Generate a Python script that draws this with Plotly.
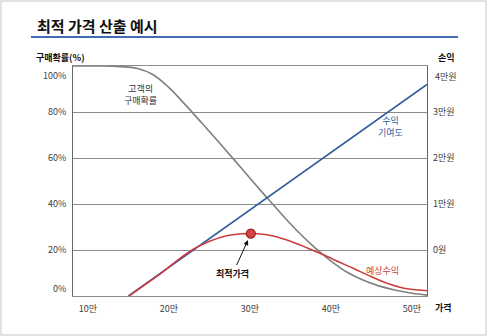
import plotly.graph_objects as go

# ---- data (prices in 만원) ----
price_ticks = [10, 20, 30, 40, 50]
price_tick_labels = ["10만", "20만", "30만", "40만", "50만"]

prob_ticks = [20, 40, 60, 80]
prob_tick_labels = ["20%", "40%", "60%", "80%"]

profit_ticks = [0, 1, 2, 3]
profit_tick_labels = ["0원", "1만원", "2만원", "3만원"]

# customer purchase probability (%)
price_prob = [8.15, 10, 12, 14, 16, 18, 20, 22, 24, 26, 28, 30, 32, 34, 36, 38, 40, 42, 44, 46, 48, 50, 51.85]
prob = [100, 100, 100, 99.7, 99.0, 96.3, 90.6, 83.2, 75.4, 67.5, 59.4, 51.2, 43.1, 35.2, 27.7, 21.0, 15.2, 10.3, 6.8, 4.3, 2.5, 1.2, 0.4]

# profit contribution (만원)
price_contrib = [15.0, 51.85]
contrib = [-1.0, 3.6]

# expected profit (만원)
price_rev = [15.06, 17, 19, 21, 23, 25, 27, 29, 30.1, 31, 33, 35, 37, 39, 41, 43, 45, 47, 49, 51.85]
rev = [-1.0, -0.76, -0.51, -0.23, 0.015, 0.19, 0.305, 0.352, 0.357, 0.352, 0.30, 0.19, 0.05, -0.1, -0.26, -0.42, -0.58, -0.73, -0.83, -0.885]

optimal_price = [30.1]
optimal_value = [0.357]

FONT = "Noto Sans CJK KR"
GRAY = "#7f7f7f"
BLUE = "#2f5d9e"
RED = "#cc3d3d"
TICK = "#404040"

fig = go.Figure()

fig.add_trace(go.Scatter(x=price_prob, y=prob, mode="lines", line=dict(color=GRAY, width=1.6, shape="spline", smoothing=1.0), hoverinfo="skip", cliponaxis=False))
fig.add_trace(go.Scatter(x=price_contrib, y=contrib, yaxis="y2", mode="lines", line=dict(color=BLUE, width=1.6), hoverinfo="skip"))
fig.add_trace(go.Scatter(x=price_rev, y=rev, yaxis="y2", mode="lines", line=dict(color=RED, width=1.6, shape="spline", smoothing=0.8), hoverinfo="skip"))
fig.add_trace(go.Scatter(x=optimal_price, y=optimal_value, yaxis="y2", mode="markers",
                         marker=dict(size=9, color="#d24545", line=dict(color="#a01e1e", width=1.3)), hoverinfo="skip"))

W, H = 487, 336
L, R, T, B = 73, 60, 66, 40
pw, ph = W - L - R, H - T - B

def px(xp):
    return (xp - L) / pw

def py(yp):
    return (H - B - yp) / ph

ann = []
def text(xp, yp, s, size=9, color=TICK, bold=False, xanchor="center"):
    if bold:
        s = "<b>" + s + "</b>"
    ann.append(dict(xref="paper", yref="paper", x=px(xp), y=py(yp), text=s, showarrow=False,
                    xanchor=xanchor, yanchor="middle", font=dict(family=FONT, size=size, color=color)))

# title and axis titles
text(35, 26, "최적 가격 산출 예시", size=15, color="#111111", bold=True, xanchor="left")
text(34, 58, "구매확률(%)", size=9, color="#111111", bold=True, xanchor="left")
text(436, 58, "손익", size=9, color="#111111", bold=True, xanchor="left")
text(433, 307, "가격", size=9, color="#111111", bold=True, xanchor="left")
# edge tick labels
text(68, 75, "100%", xanchor="right")
text(68, 288, "0%", xanchor="right")
text(433, 76, "4만원", xanchor="left")

# in-plot labels
ann.append(dict(x=16.54, y=87.4, text="고객의<br>구매확률", showarrow=False, font=dict(family=FONT, size=9, color="#333333")))
ann.append(dict(x=47.4, y=73.5, text="수익<br>기여도", showarrow=False, font=dict(family=FONT, size=9, color=BLUE)))
ann.append(dict(x=46.4, y=10.9, text="예상수익", showarrow=False, font=dict(family=FONT, size=9, color=RED)))
ann.append(dict(x=29.75, y=24.3, text="<b>최적가격</b>", showarrow=True, ax=-15, ay=33, arrowhead=2,
                arrowsize=1, arrowwidth=1, arrowcolor="#111111", font=dict(family=FONT, size=9, color="#111111")))

shapes = [
    dict(type="line", xref="paper", yref="paper", x0=px(31), x1=px(458), y0=py(37), y1=py(37),
         line=dict(color="#3f6db3", width=2)),
    dict(type="rect", xref="paper", yref="paper", x0=px(1), x1=px(486), y0=py(1), y1=py(335),
         line=dict(color="#d9d9d9", width=1.5)),
]

fig.update_layout(
    width=W, height=H, margin=dict(l=L, r=R, t=T, b=B),
    paper_bgcolor="white", plot_bgcolor="white", showlegend=False,
    font=dict(family=FONT, size=9, color=TICK),
    xaxis=dict(range=[8.15, 51.85], tickvals=price_ticks, ticktext=price_tick_labels, showgrid=False,
               showline=True, linecolor="#8c8c8c", linewidth=1, mirror=True, zeroline=False,
               ticks="", ticklabelstandoff=4, tickfont=dict(family=FONT, size=9, color=TICK)),
    yaxis=dict(range=[0, 100], tickvals=prob_ticks, ticktext=prob_tick_labels, showgrid=True,
               gridcolor="#8c8c8c", gridwidth=1, showline=True, linecolor="#666666", linewidth=1,
               mirror=True, zeroline=False, ticks="", ticklabelstandoff=4,
               tickfont=dict(family=FONT, size=9, color=TICK)),
    yaxis2=dict(range=[-1, 4], overlaying="y", side="right", tickvals=profit_ticks, ticktext=profit_tick_labels,
                showgrid=False, zeroline=False, showline=False, ticks="", ticklabelstandoff=5,
                tickfont=dict(family=FONT, size=9, color=TICK)),
    annotations=ann, shapes=shapes,
)

fig.write_html("out.html")
